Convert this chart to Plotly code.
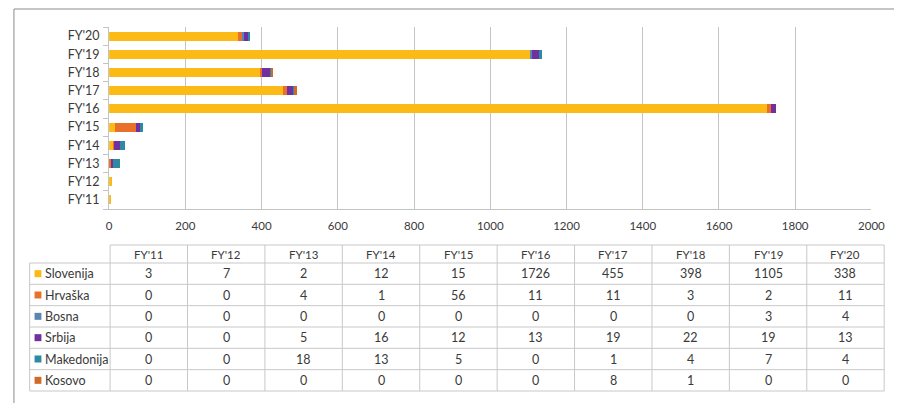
import plotly.graph_objects as go

# the page puts the figure 8px in from the top-left corner, so reference
# pixel positions are shifted by that amount
OFF = 8
W, H = 908 - OFF, 403 - OFF

years = ["FY'11", "FY'12", "FY'13", "FY'14", "FY'15", "FY'16", "FY'17", "FY'18", "FY'19", "FY'20"]
slovenija = [3, 7, 2, 12, 15, 1726, 455, 398, 1105, 338]
hrvaska = [0, 0, 4, 1, 56, 11, 11, 3, 2, 11]
bosna = [0, 0, 0, 0, 0, 0, 0, 0, 3, 4]
srbija = [0, 0, 5, 16, 12, 13, 19, 22, 19, 13]
makedonija = [0, 0, 18, 13, 5, 0, 1, 4, 7, 4]
kosovo = [0, 0, 0, 0, 0, 0, 8, 1, 0, 0]

series = [
    ("Slovenija", slovenija, "#FBBA16"),
    ("Hrvaška", hrvaska, "#E8702A"),
    ("Bosna", bosna, "#5A86B4"),
    ("Srbija", srbija, "#7030A0"),
    ("Makedonija", makedonija, "#2E8AA3"),
    ("Kosovo", kosovo, "#D06A28"),
]

FONT = "Lato, Open Sans, sans-serif"
TEXT = "#3a3a3a"
GRID = "#C4C4C4"


def px_x(x):
    return (x - OFF) / W


def px_y(y):
    return 1 - (y - OFF) / H


fig = go.Figure()
for name, values, color in series:
    fig.add_trace(
        go.Bar(
            y=years,
            x=values,
            name=name,
            orientation="h",
            marker={"color": color, "line": {"width": 0}},
        )
    )

fig.update_layout(
    width=W,
    height=H,
    margin={"l": 0, "r": 0, "t": 0, "b": 0},
    barmode="stack",
    bargap=0.5,
    showlegend=False,
    paper_bgcolor="white",
    plot_bgcolor="white",
    font={"family": FONT, "size": 11, "color": TEXT},
    xaxis={
        "domain": [px_x(108), px_x(885)],
        "range": [0, 2000],
        "dtick": 200,
        "showgrid": True,
        "gridcolor": GRID,
        "zeroline": False,
        "showline": True,
        "linecolor": GRID,
        "ticks": "",
        "ticklabelstandoff": 6,
        "tickfont": {"size": 11.5, "color": TEXT},
        "fixedrange": True,
    },
    yaxis={
        "domain": [px_y(209), px_y(27)],
        "showline": True,
        "linecolor": GRID,
        "ticks": "outside",
        "tickson": "boundaries",
        "ticklen": 5,
        "tickcolor": GRID,
        "showgrid": False,
        "ticklabelstandoff": 6,
        "tickfont": {"size": 12.5, "color": TEXT},
        "fixedrange": True,
    },
)

shapes = []
annotations = []

# outer frame (top and left edges visible in the crop)
shapes.append(dict(type="line", xref="paper", yref="paper", x0=px_x(11), x1=1, y0=px_y(9), y1=px_y(9),
                   line={"color": "#8C8C8C", "width": 1}))
shapes.append(dict(type="line", xref="paper", yref="paper", x0=px_x(11), x1=px_x(11), y0=px_y(9), y1=0,
                   line={"color": "#8C8C8C", "width": 1}))

# data table under the chart
left, col0, right = 27, 109, 898
top, head_bottom, bottom = 245, 263, 391
col_w = (right - col0) / len(years)
row_h = (bottom - head_bottom) / len(series)
line = {"color": "#C8C8C8", "width": 1}

shapes.append(dict(type="line", xref="paper", yref="paper", x0=px_x(col0), x1=px_x(right),
                   y0=px_y(top), y1=px_y(top), line=line))
for i in range(len(series) + 1):
    y = head_bottom + i * row_h
    shapes.append(dict(type="line", xref="paper", yref="paper", x0=px_x(left), x1=px_x(right),
                       y0=px_y(y), y1=px_y(y), line=line))
shapes.append(dict(type="line", xref="paper", yref="paper", x0=px_x(left), x1=px_x(left),
                   y0=px_y(head_bottom), y1=px_y(bottom), line=line))
for j in range(len(years) + 1):
    x = col0 + j * col_w
    shapes.append(dict(type="line", xref="paper", yref="paper", x0=px_x(x), x1=px_x(x),
                       y0=px_y(top), y1=px_y(bottom), line=line))

for j, year in enumerate(years):
    annotations.append(dict(xref="paper", yref="paper", x=px_x(col0 + (j + 0.5) * col_w),
                            y=px_y((top + head_bottom) / 2), text=year, showarrow=False,
                            xanchor="center", yanchor="middle", font={"size": 11.5, "color": TEXT}))

for i, (name, values, color) in enumerate(series):
    yc = head_bottom + (i + 0.5) * row_h
    shapes.append(dict(type="rect", xref="paper", yref="paper", x0=px_x(32), x1=px_x(39),
                       y0=px_y(yc - 3.5), y1=px_y(yc + 3.5), fillcolor=color, line={"width": 0}))
    annotations.append(dict(xref="paper", yref="paper", x=px_x(41), y=px_y(yc), text=name,
                            showarrow=False, xanchor="left", yanchor="middle",
                            font={"size": 12.5, "color": TEXT}))
    for j, v in enumerate(values):
        annotations.append(dict(xref="paper", yref="paper", x=px_x(col0 + (j + 0.5) * col_w), y=px_y(yc),
                                text=str(v), showarrow=False, xanchor="center", yanchor="middle",
                                font={"size": 12.5, "color": TEXT}))

fig.update_layout(shapes=shapes, annotations=annotations)

fig.write_html("out.html", config={"displayModeBar": False})
